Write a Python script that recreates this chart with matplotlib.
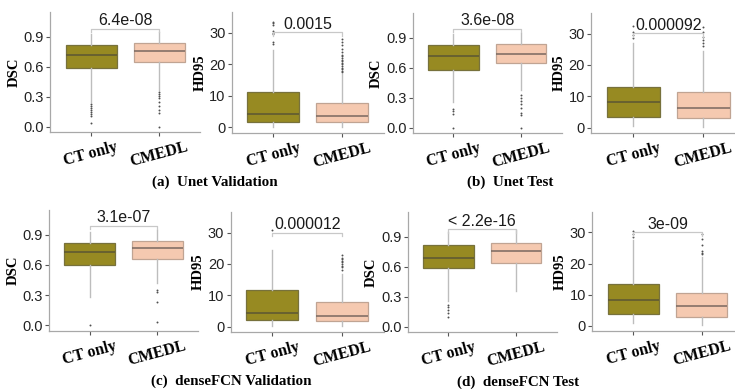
import matplotlib
matplotlib.use("Agg")
import matplotlib.pyplot as plt
import matplotlib.transforms as mtransforms

# ---------------- data ----------------
groups = ["CT only", "CMEDL"]
panel_metric = ["DSC", "HD95", "DSC", "HD95", "DSC", "HD95", "DSC", "HD95"]
p_values = ["6.4e-08", "0.0015", "3.6e-08", "0.000092",
            "3.1e-07", "0.000012", "< 2.2e-16", "3e-09"]
captions = ["(a)  Unet Validation", "(b)  Unet Test",
            "(c)  denseFCN Validation", "(d)  denseFCN Test"]

# (whislo, q1, median, q3, whishi) for [CT only, CMEDL] per panel
ct_stats = [
    (0.25, 0.584, 0.72, 0.814, 0.93),
    (0.3, 1.8, 4.4, 11.1, 24.5),
    (0.26, 0.576, 0.72, 0.826, 0.94),
    (0.5, 3.4, 8.1, 13.0, 27.0),
    (0.283, 0.597, 0.73, 0.82, 0.93),
    (0.3, 2.0, 4.2, 11.6, 24.6),
    (0.26, 0.581, 0.685, 0.813, 0.95),
    (0.8, 3.6, 8.1, 13.3, 27.5),
]
cmedl_stats = [
    (0.37, 0.644, 0.754, 0.834, 0.95),
    (0.2, 1.6, 3.5, 7.9, 17.1),
    (0.375, 0.646, 0.736, 0.836, 0.95),
    (0.3, 3.1, 6.3, 11.4, 24.5),
    (0.417, 0.663, 0.773, 0.84, 0.95),
    (0.2, 1.7, 3.3, 7.8, 16.8),
    (0.355, 0.638, 0.752, 0.833, 0.97),
    (0.3, 2.9, 6.3, 10.6, 22.0),
]
ct_fliers = [
    [0.23, 0.21, 0.19, 0.17, 0.15, 0.13, 0.11, 0.04],
    [26.5, 27.0, 29.5, 30.0, 30.5, 32.5, 33.0, 33.5],
    [0.19, 0.17, 0.14, 0.0],
    [28.5, 29.5, 30.5, 32.3],
    [0.0],
    [30.8],
    [0.22, 0.20, 0.17, 0.14, 0.10],
    [28.5, 29.5, 30.5],
]
cmedl_fliers = [
    [0.35, 0.33, 0.31, 0.29, 0.25, 0.21, 0.17, 0.14, 0.0],
    [17.5, 18.0, 18.5, 19.0, 19.5, 20.0, 20.5, 21.0, 21.5, 22.0, 22.5,
     23.0, 24.0, 25.0, 26.0, 27.0, 28.0],
    [0.33, 0.30, 0.27, 0.24, 0.20, 0.15, 0.13, 0.0],
    [26.0, 27.0, 28.0, 29.0, 30.5, 32.0],
    [0.35, 0.33, 0.23, 0.03],
    [18.0, 19.0, 19.5, 20.0, 20.5, 21.0, 21.5, 22.0, 23.0],
    [],
    [23.0, 23.5, 24.0, 26.0, 28.0, 29.5],
]
bracket_y = [0.977, 30.3, 0.99, 30.2, 0.99, 30.0, 0.974, 30.0]

# ---------------- style ----------------
fill_colors = ["#978A22", "#F5C9B0"]
edge_colors = ["#77713c", "#c0a493"]
median_colors = ["#5c5634", "#7a6860"]
whisker_color = "#bdbdbd"
axis_color = "#a8a8a8"
serif = "Liberation Serif"
sans = "Liberation Sans"

W, H = 735, 389
fig = plt.figure(figsize=(W / 100, H / 100), dpi=100)

boxes_px = [(50.2, 199.8, 12, 132), (231.9, 383.7, 12, 133),
            (412.7, 561.6, 13, 133), (591.3, 745.3, 13, 133),
            (49.1, 197.9, 210, 331), (230.5, 383.8, 212, 332),
            (407.7, 556.6, 212, 332), (592.3, 742.6, 212, 331)]

for i, (l, r, t, b) in enumerate(boxes_px):
    ax = fig.add_axes([l / W, 1 - b / H, (r - l) / W, (b - t) / H])
    stats = []
    for s, fl in ((ct_stats[i], ct_fliers[i]), (cmedl_stats[i], cmedl_fliers[i])):
        stats.append(dict(whislo=s[0], q1=s[1], med=s[2], q3=s[3], whishi=s[4], fliers=fl))
    for k in range(2):
        ax.bxp([stats[k]], positions=[k + 1], widths=0.75, patch_artist=True,
               showcaps=False,
               boxprops=dict(facecolor=fill_colors[k], edgecolor=edge_colors[k], linewidth=0.9),
               medianprops=dict(color=median_colors[k], linewidth=1.1),
               whiskerprops=dict(color=whisker_color, linewidth=1.0),
               flierprops=dict(marker='o', markersize=1.4, markerfacecolor="#505050",
                               markeredgecolor="none", linestyle='none'))
    ax.set_xlim(0.4, 2.6)
    if panel_metric[i] == "DSC":
        ax.set_ylim(-0.055, 1.145)
        ax.set_yticks([0.0, 0.3, 0.6, 0.9])
        ax.set_yticklabels(["0.0", "0.3", "0.6", "0.9"])
        tip = 0.036
    else:
        ax.set_ylim(-1.75, 36.6)
        ax.set_yticks([0, 10, 20, 30])
        ax.set_yticklabels(["0", "10", "20", "30"])
        tip = 1.15
    by = bracket_y[i]
    ax.plot([1, 1, 2, 2], [by - tip, by, by, by - tip], color="#c8c8c8", linewidth=0.9)
    ax.text(1.5, by + tip * 0.1, p_values[i], ha="center", va="bottom",
            family=sans, fontsize=11.5, color="#1a1a1a")
    for sp in ["top", "right"]:
        ax.spines[sp].set_visible(False)
    for sp in ["left", "bottom"]:
        ax.spines[sp].set_color(axis_color)
        ax.spines[sp].set_linewidth(0.9)
    ax.set_xticks([1, 2])
    ax.set_xticklabels(groups, rotation=15, family=serif, fontweight="bold",
                       fontsize=11.5, ha="center")
    offset = mtransforms.ScaledTranslation(-4 / 100, 0, fig.dpi_scale_trans)
    for lab in ax.get_xticklabels():
        lab.set_transform(lab.get_transform() + offset)
    ax.tick_params(axis="x", length=3, color="#555555", pad=2)
    ax.tick_params(axis="y", length=3, color="#555555", labelsize=10.5, pad=1.5)
    for lab in ax.get_yticklabels():
        lab.set_family(sans)
        lab.set_color("#222222")
    ax.set_ylabel(panel_metric[i], family=serif, fontweight="bold", fontsize=10.5, labelpad=2)
    ax.set_facecolor("none")

cap_pos = [(215, 182), (510, 182), (231.5, 381), (518, 382)]
for (cx, cy), txt in zip(cap_pos, captions):
    fig.text(cx / W, 1 - cy / H, txt, ha="center", va="center",
             family=serif, fontweight="bold", fontsize=10.8)

fig.savefig("out.png", dpi=100)
